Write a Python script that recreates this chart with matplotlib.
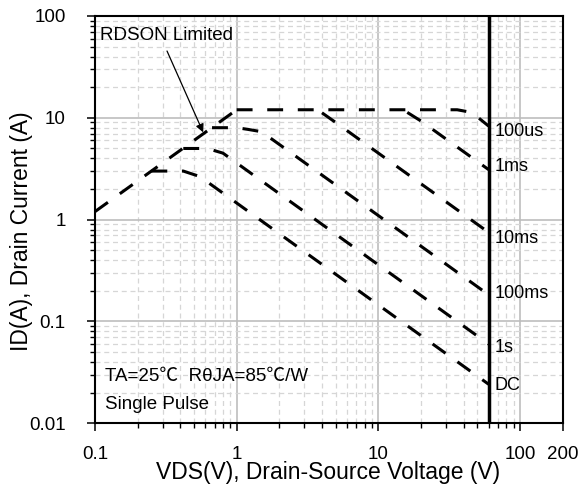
import matplotlib
matplotlib.use("Agg")
import matplotlib.pyplot as plt
from matplotlib.ticker import FixedLocator, LogLocator, NullFormatter

plt.rcParams['font.family'] = ['Liberation Sans', 'Noto Sans CJK SC', 'DejaVu Sans']

# safe operating area curves (VDS in V, ID in A)
rdson_v = [0.1, 1.0]
rdson_i = [1.2, 12.0]

us100_v = [1.0, 36, 44, 50, 60]
us100_i = [12.0, 12.0, 11.4, 10.2, 8.3]

# 1ms and 10ms branch off the 12 A line, drawn from just below it
ms1_v = [16.0, 20, 60]
ms1_i = [11.3, 9.3, 3.1]

ms10_v = [4.0, 5.0, 60]
ms10_i = [11.2, 9.0, 0.75]

ms100_v = [0.67, 1.0, 1.2, 1.5, 60]
ms100_i = [8.0, 8.0, 7.7, 7.3, 0.183]

s1_v = [0.42, 0.62, 0.8, 60]
s1_i = [5.0, 5.0, 4.5, 0.06]

dc_v = [0.25, 0.42, 0.55, 60]
dc_i = [3.0, 3.0, 2.65, 0.0242]

vds_max = 60

curve_labels = ["100us", "1ms", "10ms", "100ms", "1s", "DC"]
label_i = [7.4, 3.35, 0.65, 0.188, 0.056, 0.0236]

x_ticks = [0.1, 1, 10, 100, 200]
x_ticklabels = ["0.1", "1", "10", "100", "200"]
y_ticks = [0.01, 0.1, 1, 10, 100]
y_ticklabels = ["0.01", "0.1", "1", "10", "100"]

fig = plt.figure(figsize=(5.81, 4.95), dpi=100)
ax = fig.add_axes([0.1635, 0.1448, 0.805, 0.8229])

ax.set_xscale('log')
ax.set_yscale('log')
ax.set_xlim(0.1, 200)
ax.set_ylim(0.01, 100)

dash = (0, (5.2, 4.8))
for v, i in [(rdson_v, rdson_i), (us100_v, us100_i), (ms1_v, ms1_i),
             (ms10_v, ms10_i), (ms100_v, ms100_i), (s1_v, s1_i), (dc_v, dc_i)]:
    ax.plot(v, i, color='black', lw=2.2, linestyle=dash, zorder=3)

ax.axvline(vds_max, color='black', lw=2.5, zorder=4)

for lab, yi in zip(curve_labels, label_i):
    ax.text(66.5, yi, lab, fontsize=13, ha='left', va='center', zorder=5)

# ticks and grid
ax.xaxis.set_major_locator(FixedLocator(x_ticks))
ax.set_xticklabels(x_ticklabels)
ax.yaxis.set_major_locator(FixedLocator(y_ticks))
ax.set_yticklabels(y_ticklabels)
ax.xaxis.set_minor_locator(LogLocator(base=10, subs=range(2, 10), numticks=20))
ax.yaxis.set_minor_locator(LogLocator(base=10, subs=range(2, 10), numticks=20))
ax.xaxis.set_minor_formatter(NullFormatter())
ax.yaxis.set_minor_formatter(NullFormatter())

ax.grid(which='major', color='#bdbdbd', lw=1.2, linestyle='-', zorder=0)
ax.grid(which='minor', color='#d6d6d6', lw=0.9, linestyle=(0, (4.0, 3.0)), zorder=0)
ax.set_axisbelow(True)

ax.tick_params(which='major', direction='out', length=6, width=1.1, labelsize=13.5)
ax.tick_params(which='minor', direction='out', length=3.3, width=1.0)
ax.tick_params(axis='x', which='major', pad=10)
ax.tick_params(axis='y', which='major', pad=15)

for s in ax.spines.values():
    s.set_linewidth(1.5)
    s.set_color('black')

ax.set_xlabel("VDS(V), Drain-Source Voltage (V)", fontsize=16.5)
ax.set_ylabel("ID(A), Drain Current (A)", fontsize=16.5)
ax.xaxis.set_label_coords(0.498, -0.093)
ax.yaxis.set_label_coords(-0.133, 0.472)

ax.text(0.021, 0.116, "TA=25\u2103  R\u03b8JA=85\u2103/W", transform=ax.transAxes,
        fontsize=13.5, ha='left', va='center')
ax.text(0.021, 0.047, "Single Pulse", transform=ax.transAxes,
        fontsize=13.5, ha='left', va='center')

ax.text(0.011, 0.953, "RDSON Limited", transform=ax.transAxes,
        fontsize=13.5, ha='left', va='center')
ax.annotate("", xy=(0.58, 7.2), xycoords='data',
            xytext=(0.154, 0.914), textcoords='axes fraction',
            arrowprops=dict(arrowstyle='-|>', color='black', lw=0.9,
                            mutation_scale=12, shrinkA=0, shrinkB=0))

fig.savefig("out.png", dpi=100)
